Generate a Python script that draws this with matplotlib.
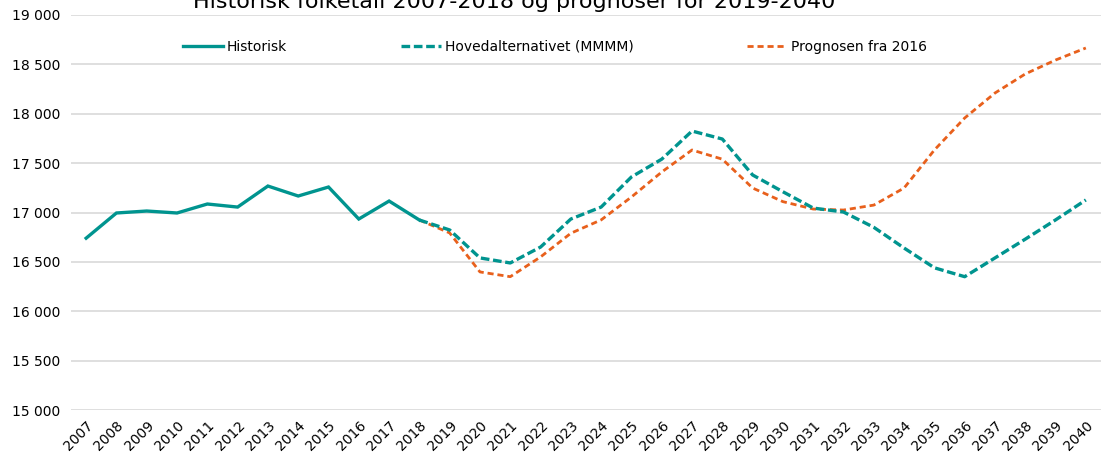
import matplotlib
matplotlib.use('Agg')
import matplotlib.pyplot as plt
from matplotlib.ticker import FuncFormatter
from matplotlib.lines import Line2D

# Data
years_hist = list(range(2007, 2019))
hist = [16740, 16995, 17015, 16995, 17086, 17055, 17268, 17167, 17258, 16934, 17116, 16924]

years_proj = list(range(2018, 2041))
hoved = [16924, 16823, 16540, 16489, 16650, 16934, 17055, 17360, 17540, 17825, 17744, 17380,
         17210, 17045, 17005, 16850, 16640, 16440, 16350, 16540, 16730, 16925, 17127]
prog2016 = [16924, 16793, 16398, 16350, 16550, 16790, 16925, 17157, 17410, 17633, 17540, 17248,
            17110, 17035, 17025, 17075, 17248, 17633, 17957, 18210, 18403, 18544, 18666]

teal = '#00948F'
orange = '#E8601C'
teal_dash = (0, (2.6, 1.1))
orange_dash = (0, (2.2, 1.4))

fig = plt.figure(figsize=(11.02, 4.59), dpi=100)
ax = fig.add_axes([71 / 1102, 1 - 410 / 459, 1030 / 1102, 395 / 459])

ax.plot(years_proj, prog2016, color=orange, linewidth=2.0, linestyle=orange_dash)
ax.plot(years_proj, hoved, color=teal, linewidth=2.4, linestyle=teal_dash)
ax.plot(years_hist, hist, color=teal, linewidth=2.4, solid_joinstyle='miter')

ax.set_xlim(2006.5, 2040.5)
ax.set_ylim(15000, 19000)
ax.set_yticks(range(15000, 19001, 500))
ax.yaxis.set_major_formatter(FuncFormatter(lambda v, p: f"{int(v):,}".replace(',', ' ')))
ax.set_xticks(range(2007, 2041))
ax.set_xticklabels([str(y) for y in range(2007, 2041)], rotation=45, ha='right',
                   rotation_mode='anchor', fontsize=10)
ax.tick_params(axis='both', length=0, labelsize=10, colors='#000000')
ax.tick_params(axis='x', pad=6)
ax.tick_params(axis='y', pad=8)
ax.grid(axis='y', color='#D9D9D9', linewidth=1.2)
ax.set_axisbelow(True)
for s in ax.spines.values():
    s.set_visible(False)

# title sits partly above the top edge, as in the source image
fig.text(514 / 1102, 1 - 8 / 459, 'Historisk folketall 2007-2018 og prognoser for 2019-2040',
         ha='center', va='baseline', fontsize=16)

handles = [
    Line2D([], [], color=teal, linewidth=2.4),
    Line2D([], [], color=teal, linewidth=2.4, linestyle=teal_dash),
    Line2D([], [], color=orange, linewidth=2.0, linestyle=orange_dash),
]
labels = ['Historisk', 'Hovedalternativet (MMMM)', 'Prognosen fra 2016']
fig.legend(handles, labels, loc='center', bbox_to_anchor=(555 / 1102, 1 - 47 / 459),
           ncol=3, frameon=False, fontsize=10, handlelength=2.9, handletextpad=0.3,
           columnspacing=8.15)

fig.savefig('out.png', dpi=100)
plt.close(fig)
